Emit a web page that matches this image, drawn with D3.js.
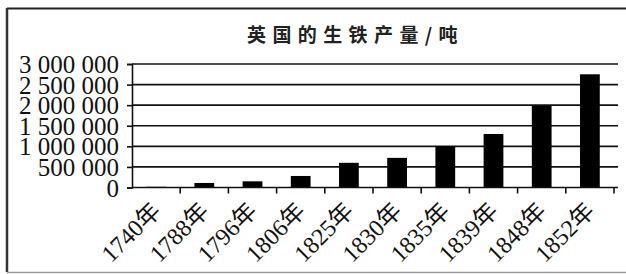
<!DOCTYPE html>
<html>
<head>
<meta charset="utf-8">
<script src="https://cdn.jsdelivr.net/npm/d3@7"></script>
<style>
  body { margin: 0; background: #fff; }
  svg { display: block; }
</style>
</head>
<body>
<div class="chart"></div>
<script>
const years = ["1740年", "1788年", "1796年", "1806年", "1825年", "1830年", "1835年", "1839年", "1848年", "1852年"];
const output = [17000, 110000, 150000, 280000, 600000, 720000, 1000000, 1300000, 1980000, 2750000];
const yTicks = [0, 500000, 1000000, 1500000, 2000000, 2500000, 3000000];
const title = "英国的生铁产量/吨";

const width = 626, height = 274;
const plotLeft = 132, plotRight = 614, plotTop = 64, plotBottom = 187.5;

const svg = d3.select(".chart").append("svg")
    .attr("width", width)
    .attr("height", height);

// frame
svg.append("line").attr("x1", 7).attr("x2", width).attr("y1", 8.5).attr("y2", 8.5)
    .attr("stroke", "#222").attr("stroke-width", 2);
svg.append("line").attr("x1", 7).attr("x2", 7).attr("y1", 8).attr("y2", 272)
    .attr("stroke", "#333").attr("stroke-width", 2.5);
svg.append("line").attr("x1", 7).attr("x2", width).attr("y1", 272.5).attr("y2", 272.5)
    .attr("stroke", "#999").attr("stroke-width", 1.5);

svg.append("text")
    .attr("x", 247).attr("y", 42)
    .attr("font-family", "'Noto Sans CJK SC'")
    .attr("font-weight", 700)
    .attr("font-size", 19)
    .attr("letter-spacing", 6.4)
    .attr("fill", "#222")
    .text(title);

const x = d3.scaleBand().domain(years).range([plotLeft, plotRight]).paddingInner(0.59).paddingOuter(0.295);
const y = d3.scaleLinear().domain([0, 3000000]).range([plotBottom, plotTop]);

// grid lines
svg.append("g").selectAll("line").data(yTicks.filter(d => d > 0))
    .join("line")
    .attr("x1", plotLeft).attr("x2", 618)
    .attr("y1", d => y(d)).attr("y2", d => y(d))
    .attr("stroke", "#111").attr("stroke-width", 1.6);

// bars
svg.append("g").selectAll("rect").data(output)
    .join("rect")
    .attr("x", (d, i) => x(years[i]))
    .attr("width", x.bandwidth())
    .attr("y", d => y(d))
    .attr("height", d => plotBottom - y(d))
    .attr("fill", "#000");

// y axis
const yAxis = svg.append("g")
    .attr("transform", `translate(${plotLeft},0)`)
    .call(d3.axisLeft(y).tickValues(yTicks).tickSize(5).tickPadding(8)
        .tickFormat(d => d3.format(",")(d).replace(/,/g, " ")));
yAxis.select(".domain").attr("stroke", "#111").attr("stroke-width", 1.6);
yAxis.selectAll(".tick line").attr("stroke", "#111").attr("stroke-width", 1.6);
yAxis.selectAll(".tick text")
    .attr("font-family", "'Liberation Serif'")
    .attr("font-size", 25)
    .attr("fill", "#111")
    .attr("dy", "0.34em");

// x axis with ticks at band edges
const edges = years.map(d => x(d) - x.step() * x.paddingInner() / 2).concat([plotRight]);
const xg = svg.append("g");
xg.append("line").attr("x1", plotLeft).attr("x2", 618).attr("y1", plotBottom).attr("y2", plotBottom)
    .attr("stroke", "#111").attr("stroke-width", 1.6);
xg.selectAll(".tk").data(edges.slice(1))
    .join("line").attr("class", "tk")
    .attr("x1", d => d).attr("x2", d => d)
    .attr("y1", plotBottom).attr("y2", plotBottom + 6)
    .attr("stroke", "#111").attr("stroke-width", 1.6);
xg.selectAll("text").data(years)
    .join("text")
    .attr("transform", d => `translate(${x(d) + x.bandwidth() / 2 + 6},${plotBottom + 25}) rotate(-45)`)
    .attr("text-anchor", "end")
    .attr("font-family", "'Liberation Serif', 'Noto Sans CJK SC'")
    .attr("font-size", 24)
    .attr("fill", "#111")
    .text(d => d);
</script>
</body>
</html>
